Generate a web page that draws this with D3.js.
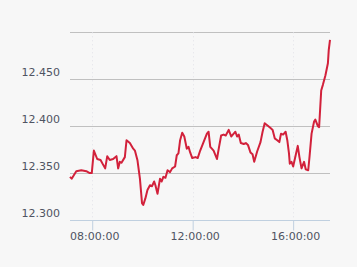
<!DOCTYPE html>
<html>
<head>
<meta charset="utf-8">
<script src="https://cdn.jsdelivr.net/npm/d3@7"></script>
<style>
  html, body { margin: 0; padding: 0; background: #f7f7f7; }
  svg { display: block; font-family: "DejaVu Sans", Verdana, sans-serif; }
</style>
</head>
<body>
<svg id="chart" width="357" height="267"></svg>
<script>
// intraday quotes
var times = ["07:07","07:11","07:22","07:34","07:46","07:54","07:59","08:04","08:12","08:20",
  "08:26","08:31","08:36","08:42","08:50","08:58","09:02","09:06","09:10","09:18",
  "09:22","09:30","09:38","09:42","09:48","09:54","09:59","10:02","10:07","10:12",
  "10:18","10:23","10:28","10:31","10:36","10:42","10:46","10:50","10:55","11:00",
  "11:06","11:11","11:18","11:22","11:26","11:30","11:35","11:40","11:46","11:50",
  "11:54","11:59","12:07","12:12","12:18","12:26","12:34","12:38","12:42","12:50",
  "12:58","13:03","13:08","13:14","13:19","13:26","13:32","13:38","13:42","13:46",
  "13:50","13:55","14:02","14:07","14:12","14:18","14:23","14:27","14:34","14:42",
  "14:47","14:52","14:58","15:06","15:11","15:16","15:22","15:27","15:31","15:36",
  "15:42","15:46","15:50","15:52","15:56","16:00","16:06","16:11","16:15","16:20",
  "16:26","16:30","16:36","16:39","16:44","16:50","16:53","16:59","17:02","17:07",
  "17:11","17:17","17:23","17:25","17:28"];
var prices = [12.346,12.344,12.352,12.353,12.352,12.350,12.350,12.374,12.365,12.364,
  12.359,12.355,12.368,12.364,12.365,12.368,12.355,12.362,12.361,12.367,
  12.385,12.382,12.376,12.374,12.364,12.344,12.318,12.316,12.323,12.332,
  12.337,12.336,12.341,12.337,12.328,12.344,12.341,12.346,12.345,12.353,
  12.351,12.355,12.357,12.369,12.371,12.385,12.393,12.389,12.376,12.378,
  12.372,12.366,12.367,12.366,12.374,12.383,12.392,12.394,12.378,12.374,
  12.365,12.378,12.390,12.391,12.390,12.396,12.389,12.392,12.394,12.389,
  12.391,12.382,12.381,12.382,12.380,12.372,12.370,12.362,12.373,12.383,
  12.394,12.403,12.401,12.398,12.396,12.387,12.385,12.383,12.392,12.391,
  12.394,12.385,12.371,12.360,12.362,12.357,12.369,12.379,12.367,12.355,
  12.362,12.354,12.353,12.367,12.392,12.405,12.407,12.400,12.399,12.438,
  12.444,12.454,12.467,12.481,12.492];
var yTicks = [12.30, 12.35, 12.40, 12.45, 12.50];
var xTickLabels = ["08:00:00", "12:00:00", "16:00:00"];

(function () {
  var parseTime = d3.timeParse("%H:%M");
  var parseTick = d3.timeParse("%H:%M:%S");

  var data = [];
  for (var i = 0; i < times.length; i++) {
    data.push({ t: parseTime(times[i]), v: prices[i] });
  }

  var plotLeft = 70, plotRight = 330, plotTop = 32.3, plotBottom = 220;
  var svg = d3.select("#chart");

  var x = d3.scaleTime()
    .domain(d3.extent(data, function (d) { return d.t; }))
    .range([plotLeft, plotRight]);
  var y = d3.scaleLinear()
    .domain([12.30, 12.50])
    .range([plotBottom, plotTop]);

  // horizontal grid
  svg.append("g").selectAll("line")
    .data(yTicks.slice(1))
    .enter().append("line")
    .attr("x1", plotLeft).attr("x2", plotRight)
    .attr("y1", function (d) { return Math.round(y(d)) + 0.5; })
    .attr("y2", function (d) { return Math.round(y(d)) + 0.5; })
    .attr("stroke", "#c0c0c0");

  // vertical dotted grid
  var xTicks = xTickLabels.map(function (s) { return parseTick(s); });
  svg.append("g").selectAll("line")
    .data(xTicks)
    .enter().append("line")
    .attr("x1", function (d) { return Math.round(x(d)) + 0.5; })
    .attr("x2", function (d) { return Math.round(x(d)) + 0.5; })
    .attr("y1", plotTop).attr("y2", plotBottom)
    .attr("stroke", "#e2e2e8")
    .attr("stroke-dasharray", "1,3");

  // y labels (last one hidden)
  svg.append("g").selectAll("text")
    .data(yTicks.slice(0, 4))
    .enter().append("text")
    .attr("x", 60)
    .attr("y", function (d) { return y(d) - 3.5; })
    .attr("text-anchor", "end")
    .attr("font-size", "11px")
    .attr("fill", "#4f5462")
    .text(function (d) { return d3.format(".3f")(d); });

  // x axis
  var xAxis = d3.axisBottom(x)
    .tickValues(xTicks)
    .tickFormat(d3.timeFormat("%H:%M:%S"))
    .tickSize(10)
    .tickSizeOuter(0);
  var gx = svg.append("g")
    .attr("transform", "translate(0," + (plotBottom + 0.5) + ")")
    .call(xAxis);
  gx.select(".domain").attr("stroke", "#c0d0e0").attr("d", "M" + plotLeft + ",0H" + plotRight);
  gx.selectAll(".tick line").attr("stroke", "#c0d0e0");
  gx.selectAll(".tick text")
    .attr("y", 12)
    .attr("dy", "0.71em")
    .attr("dx", 2)
    .attr("font-size", "11px")
    .attr("font-family", "DejaVu Sans, Verdana, sans-serif")
    .attr("fill", "#4f5462");

  // price line
  var line = d3.line()
    .x(function (d) { return x(d.t); })
    .y(function (d) { return y(d.v); });
  svg.append("path")
    .datum(data)
    .attr("d", line)
    .attr("fill", "none")
    .attr("stroke", "#d2213b")
    .attr("stroke-width", 2)
    .attr("stroke-linejoin", "round");
})();
</script>
</body>
</html>
